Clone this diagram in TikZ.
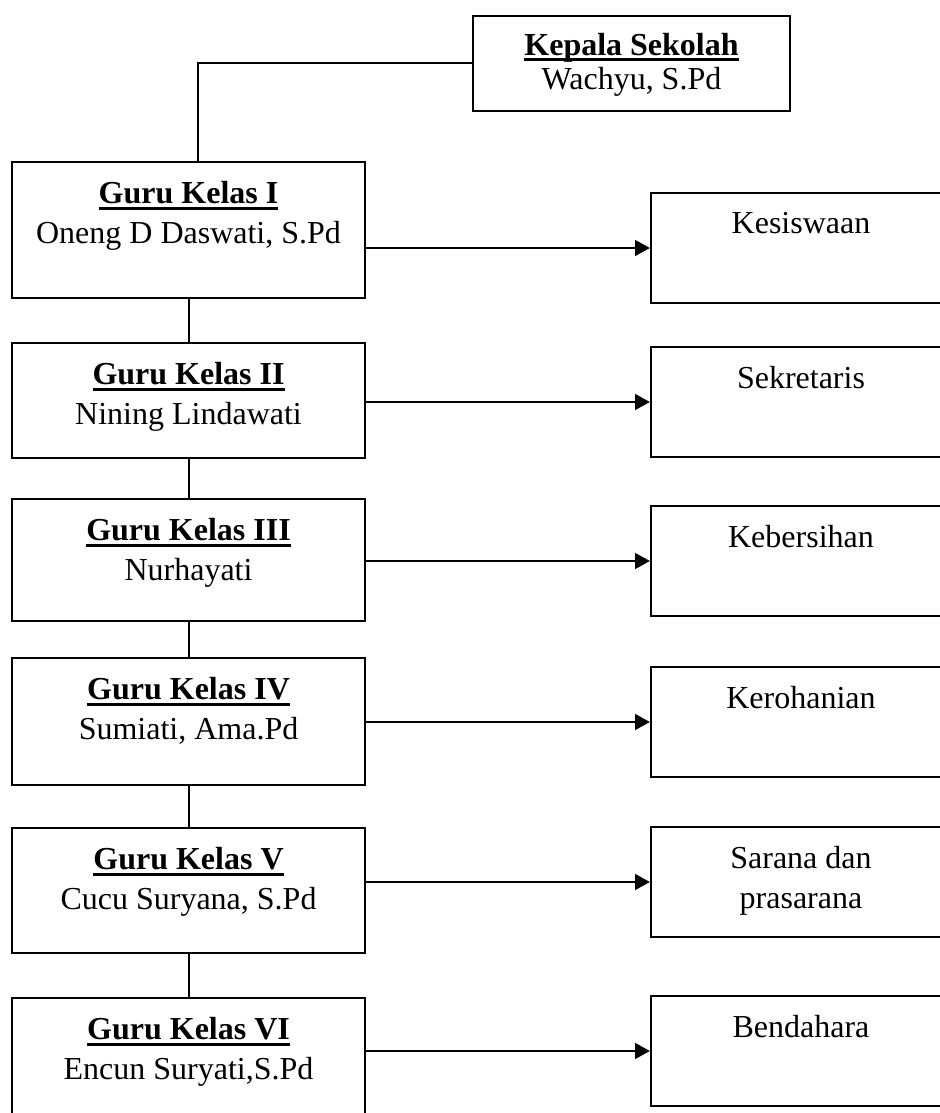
\documentclass[tikz,border=0pt]{standalone}
\usepackage{fontspec}
\setmainfont{Liberation Serif}
\usetikzlibrary{arrows.meta}

% garis bawah tebal untuk judul
\newcommand{\judulbawah}[1]{\setbox0\hbox{\textbf{#1}}\rlap{\rule[-2.4pt]{\wd0}{1.2pt}}\box0}

\tikzset{
	kotak/.style = {draw, line width = 0.75pt, anchor = north west, inner sep = 0pt},
	guru/.style = {kotak, minimum width = 132.4pt},
	tugas/.style = {kotak, minimum width = 112.5pt, minimum height = 41.25pt},
	isi/.style = {anchor = north, align = center, inner sep = 0pt, yshift = -7.5pt,
		font = \fontsize{12pt}{15pt}\selectfont},
	garis/.style = {line width = 0.75pt},
	panah/.style = {line width = 1.1pt, -{Triangle[length = 5.6pt, width = 5.8pt]}}
}

\begin{document}
\begin{tikzpicture}[x = 0.375pt, y = -0.375pt]
		\useasboundingbox (0, 0) rectangle (940, 1113);
		\clip (0, 0) rectangle (940, 1113);
		% kepala sekolah
		\node[kotak, minimum width = 118.9pt, minimum height = 35.6pt] (kepala) at (472, 15) {};
			\node[isi, yshift = 1pt] (tkepala) at (kepala.north) {\judulbawah{Kepala Sekolah}\\[-2pt]Wachyu, S.Pd};
		% guru kelas dan tugasnya
		\foreach \i/\gy/\gh/\ky/\judul/\nama/\tugas in {
				1/161/51pt/192/I/{Oneng D Daswati, S.Pd}/Kesiswaan,
				2/342/43.1pt/346/II/{Nining Lindawati}/Sekretaris,
				3/498/45.75pt/505/III/{Nurhayati}/Kebersihan,
				4/657/47.6pt/666/IV/{Sumiati, Ama.Pd}/Kerohanian,
				5/827/46.9pt/826/V/{Cucu Suryana, S.Pd}/{Sarana dan\\prasarana},
				6/997/46.9pt/995/VI/{Encun Suryati,S.Pd}/Bendahara} {
			\node[guru, minimum height = \gh] (g\i) at (11, \gy) {};
				\node[isi] (tg\i) at (g\i.north) {\judulbawah{Guru Kelas \judul}\\\nama};
			\node[tugas] (k\i) at (650, \ky) {};
				\node[isi] (tk\i) at (k\i.north) {\tugas};
			\draw[panah] (g\i.east |- k\i.west) -- (k\i.west);
		}
		\foreach \i [count = \j from 2] in {1, ..., 5}
			\draw[garis] (g\i.south) -- (g\j.north);
		\draw[garis] (kepala.west) -| ([xshift = 3.4pt]g1.north);
	\end{tikzpicture}
\end{document}
